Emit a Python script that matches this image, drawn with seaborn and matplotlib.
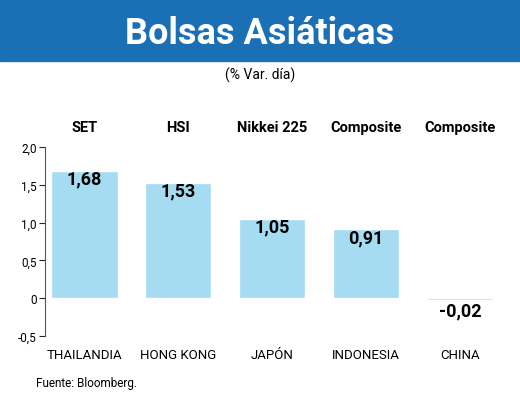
import matplotlib
matplotlib.use("Agg")
import matplotlib.pyplot as plt
import seaborn as sns
import pandas as pd

paises = ["THAILANDIA", "HONG KONG", "JAPÓN", "INDONESIA", "CHINA"]
indices = ["SET", "HSI", "Nikkei 225", "Composite", "Composite"]
variacion = [1.68, 1.53, 1.05, 0.91, -0.02]
etiquetas = ["1,68", "1,53", "1,05", "0,91", "-0,02"]
yticks = [-0.5, 0, 0.5, 1.0, 1.5, 2.0]
ytick_labels = ["-0,5", "0", "0,5", "1,0", "1,5", "2,0"]

sns.set_style("white")
plt.rcParams['font.family'] = ['Roboto', 'DejaVu Sans']
plt.rcParams['text.color'] = 'black'

df = pd.DataFrame({"pais": paises, "var": variacion})

fig = plt.figure(figsize=(5.2, 4.1), dpi=100)
ax = fig.add_axes([0.087, 0.178, 0.884, 0.461])
sns.barplot(data=df, x="pais", y="var", color="#a6dcf2", saturation=1, width=0.71, ax=ax)

ax.set_ylim(-0.5, 2.0)
ax.set_xlim(-0.415, 4.48)
ax.set_yticks(yticks)
ax.set_yticklabels(ytick_labels, fontsize=8.5, color="black")
ax.set_xlabel("")
ax.set_ylabel("")
ax.set_xticks(range(len(paises)))
ax.set_xticklabels(paises, fontsize=9.5, color="black")
for t in ax.get_xticklabels():
    t.set_va("baseline")
ax.tick_params(axis="x", length=0, pad=16)
ax.tick_params(axis="y", length=4, direction="out", left=True, pad=2)
for s in ["top", "right", "bottom"]:
    ax.spines[s].set_visible(False)
ax.spines["left"].set_color("#555555")

for i, (v, t) in enumerate(zip(variacion, etiquetas)):
    y = v - 0.1 if v > 0 else v - 0.14
    ax.text(i, y, t, ha="center", va="center", fontsize=13, fontweight="bold")
    ax.text(i, 2.27, indices[i], ha="center", va="center", fontsize=10.5, fontweight="bold")

# header banner
fig.patches.append(plt.Rectangle((0, 0.85), 1, 0.15, transform=fig.transFigure,
                                 color="#1a6fb5", zorder=0))
fig.text(0.5, 0.918, "Bolsas Asiáticas", ha="center", va="center", color="white",
         fontsize=26, fontweight="bold")
fig.text(0.5, 0.817, "(% Var. día)", ha="center", va="center", fontsize=10)
fig.text(0.07, 0.065, "Fuente: Bloomberg.", ha="left", va="center", fontsize=8.5)

fig.savefig("out.png", dpi=100)
